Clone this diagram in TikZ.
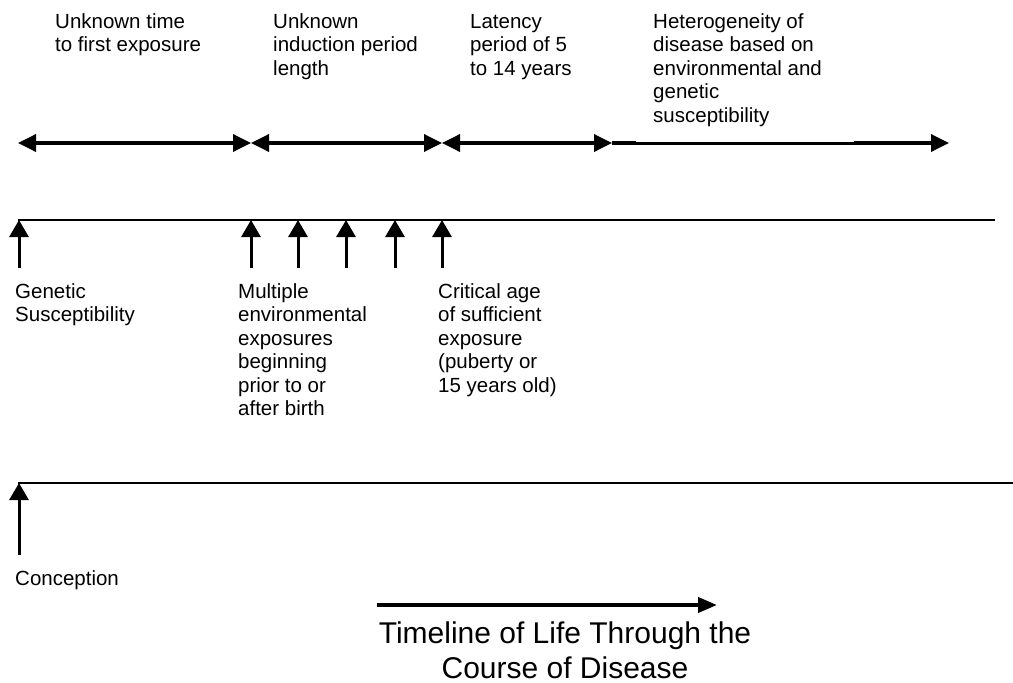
\documentclass[tikz,border=0pt]{standalone}
\usepackage{fontspec}
\setmainfont{Liberation Sans}
\usetikzlibrary{arrows.meta}
\tikzset{
  txt/.style={anchor=base west, inner sep=0pt, font=\fontsize{20.5}{23.5}\selectfont},
  ttl/.style={anchor=base, inner sep=0pt, font=\fontsize{30}{35}\selectfont},
  tline/.style={line width=2pt},
  uparrow/.style={line width=3pt, -{Triangle[length=17pt,width=19pt]}},
  spanarrow/.style={line width=3.5pt, {Triangle[length=18pt,width=17pt]}-{Triangle[length=18pt,width=17pt]}},
  endarrow/.style={line width=3.5pt, -{Triangle[length=18pt,width=17pt]}},
  thinspan/.style={line width=2.6pt},
  bigarrow/.style={line width=4pt, -{Triangle[length=19pt,width=15pt]}}
}
\newcommand{\mlines}[1]{\begin{tabular}[t]{@{}l@{}}#1\end{tabular}}
\begin{document}
\begin{tikzpicture}[x=1pt,y=-1pt]
\useasboundingbox (0,0) rectangle (1013,683);
% top labels
\node[txt] (t1) at (55,28) {\mlines{Unknown time\\to first exposure}};
\node[txt] (t2) at (273,28) {\mlines{Unknown\\induction period\\length}};
\node[txt] (t3) at (470,28) {\mlines{Latency\\period of 5\\to 14 years}};
\node[txt] (t4) at (653,28) {\mlines{Heterogeneity of\\disease based on\\environmental and\\genetic\\susceptibility}};
% span arrows
\coordinate (a0) at (18,143);
\coordinate (a1) at (251,143);
\coordinate (a2) at (442,143);
\coordinate (a3) at (612,143);
\coordinate (m1) at (636,143);
\coordinate (m2) at (854,143);
\coordinate (a4) at (949,143);
\draw[spanarrow] (a0) -- (a1);
\draw[spanarrow] (a1) -- (a2);
\draw[spanarrow] (a2) -- (a3);
\draw[line width=3.5pt] (a3) -- (m1);
\draw[thinspan] ([yshift=-0.5pt]m1) -- ([yshift=-0.5pt]m2);
\draw[endarrow] (m2) -- (a4);
% timeline 1
\coordinate (l1s) at (18,220);
\coordinate (l1e) at (995,220);
\draw[tline] (l1s) -- (l1e);
\foreach \i/\x in {0/19,1/251,2/298,3/346,4/395,5/442}{
  \coordinate (b\i) at (\x,268);
  \coordinate (e\i) at (\x,220);
  \draw[uparrow] (b\i) -- (e\i);
}
\node[txt] (t5) at (15,298) {\mlines{Genetic\\Susceptibility}};
\node[txt] (t6) at (238,298) {\mlines{Multiple\\environmental\\exposures\\beginning\\prior to or\\after birth}};
\node[txt] (t7) at (438,298) {\mlines{Critical age\\of sufficient\\exposure\\(puberty or\\15 years old)}};
% timeline 2
\coordinate (l2s) at (18,483);
\coordinate (l2e) at (1013,483);
\draw[tline] (l2s) -- (l2e);
\coordinate (c0) at (19,555);
\coordinate (c1) at (19,483);
\draw[uparrow] (c0) -- (c1);
\node[txt] (t8) at (15,585) {Conception};
% title
\coordinate (g0) at (377,605);
\coordinate (g1) at (717,605);
\draw[bigarrow] (g0) -- (g1);
\node[ttl] (ti1) at (565,643) {Timeline of Life Through the};
\node[ttl] (ti2) at (565,678) {Course of Disease};
\end{tikzpicture}
\end{document}
